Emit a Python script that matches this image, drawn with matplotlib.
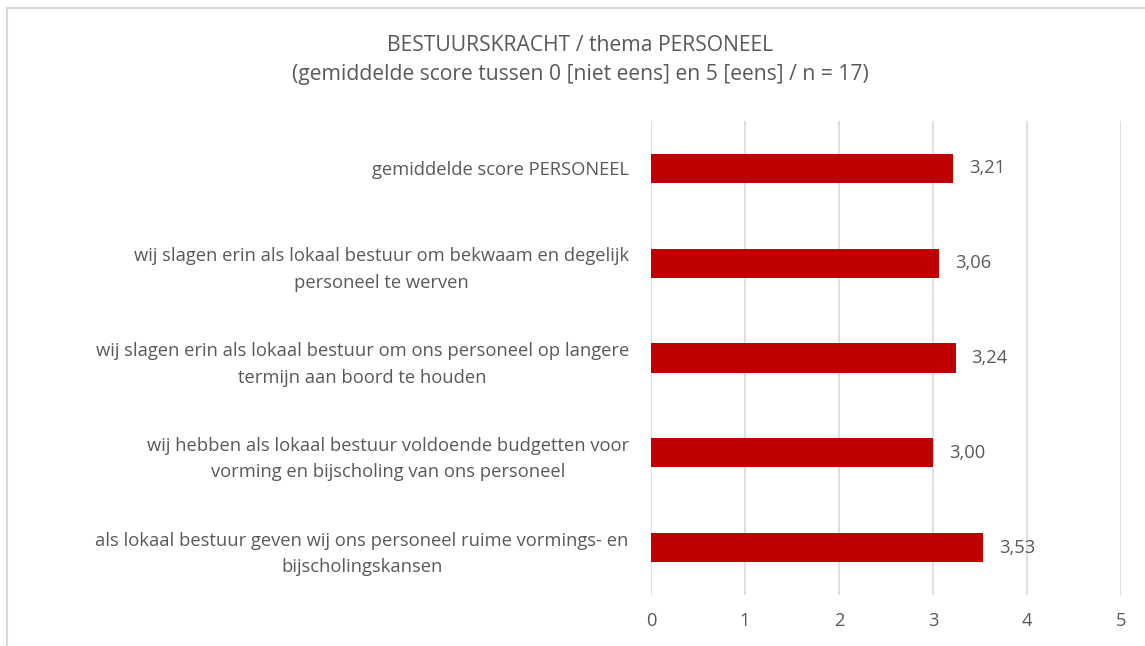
import matplotlib
matplotlib.use("Agg")
import matplotlib.pyplot as plt
from matplotlib.patches import Rectangle

plt.rcParams['font.family'] = ['Open Sans', 'DejaVu Sans']

categories = [
    "gemiddelde score PERSONEEL",
    "wij slagen erin als lokaal bestuur om bekwaam en degelijk\npersoneel te werven",
    "wij slagen erin als lokaal bestuur om ons personeel op langere\ntermijn aan boord te houden",
    "wij hebben als lokaal bestuur voldoende budgetten voor\nvorming en bijscholing van ons personeel",
    "als lokaal bestuur geven wij ons personeel ruime vormings- en\nbijscholingskansen",
]
values = [3.21, 3.06, 3.24, 3.00, 3.53]
xticks = [0, 1, 2, 3, 4, 5]
title = "BESTUURSKRACHT / thema PERSONEEL\n(gemiddelde score tussen 0 [niet eens] en 5 [eens] / n = 17)"

TXT = "#595959"
GRID = "#D9D9D9"
BAR = "#C00000"
FS = 13.2

fig = plt.figure(figsize=(11.45, 6.46), dpi=100)
ax = fig.add_axes([651/1145, (646-595)/646, (1121-651)/1145, (595-121)/646])

ypos = list(range(len(categories)))[::-1]
ax.barh(ypos, values, height=0.31, color=BAR, zorder=3)
ax.set_ylim(-0.5, len(categories) - 0.5)
ax.set_xlim(0, 5)
ax.set_xticks(xticks)
ax.set_xticklabels([str(t) for t in xticks], color=TXT, fontsize=FS)
ax.tick_params(axis='x', length=0, pad=12)
ax.set_yticks(ypos)
ax.set_yticklabels(categories, color=TXT, fontsize=FS, multialignment='center',
                   linespacing=1.62)
ax.tick_params(axis='y', length=0, pad=16)
ax.grid(axis='x', color=GRID, linewidth=1.2, zorder=0)
for s in ax.spines.values():
    s.set_visible(False)

for y, v in zip(ypos, values):
    ax.annotate(f"{v:.2f}".replace('.', ','), xy=(v, y), xytext=(16, 0),
                textcoords='offset pixels', va='center', ha='left',
                color=TXT, fontsize=FS)

fig.text(580/1145, (646-60)/646, title, ha='center', va='center',
         color=TXT, fontsize=15.2, linespacing=1.55)

fig.patches.append(Rectangle((7/1145, -0.1), 1.2, (646-8)/646 + 0.1,
                             transform=fig.transFigure, fill=False,
                             edgecolor=GRID, linewidth=1.5))

fig.savefig("out.png", dpi=100)
